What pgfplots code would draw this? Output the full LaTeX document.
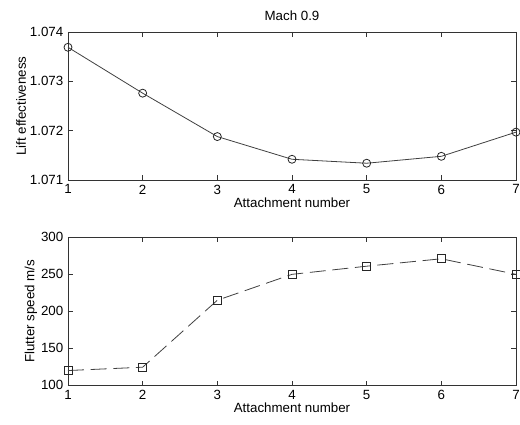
\documentclass[border=0pt]{standalone}
\usepackage{fontspec}
\setmainfont{Liberation Sans}
\usepackage{pgfplots}
\pgfplotsset{compat=1.18}
\begin{document}
\begin{tikzpicture}
\path[use as bounding box] (-51pt,-29pt) rectangle (339pt,289pt);
\pgfplotsset{
  every axis/.append style={
    scale only axis, width=336pt, height=111pt,
    xmin=1, xmax=7, xtick={1,...,7},
    font=\fontsize{10}{12}\selectfont,
    /pgf/number format/assume math mode=true,
    tick align=inside, major tick length=3.5pt,
    axis line style={black!80, line width=0.6pt},
    tick style={black!80, line width=0.6pt},
    xlabel={Attachment number},
    xlabel style={yshift=4pt},
    ylabel style={yshift=-4pt},
  }
}
\begin{axis}[at={(0,154pt)}, anchor=south west,
  ymin=1.071, ymax=1.074, ytick={1.071,1.072,1.073,1.074},
  yticklabel style={/pgf/number format/fixed, /pgf/number format/precision=3, /pgf/number format/fixed zerofill},
  scaled y ticks=false,
  ylabel={Lift effectiveness},
  title={Mach 0.9}, title style={yshift=-1pt},
]
\addplot[black!75, line width=0.6pt, mark=o, mark size=3pt, mark options={solid, black!85}] coordinates {
(1,1.07369) (2,1.07276) (3,1.07188) (4,1.07142) (5,1.07134) (6,1.07148) (7,1.07197)};
\end{axis}
\begin{axis}[at={(0,0)}, anchor=south west,
  ymin=100, ymax=300, ytick={100,150,...,300},
  ylabel={Flutter speed m/s},
]
\addplot[black!75, line width=0.6pt, dash pattern=on 12pt off 5pt, mark=square, mark size=3pt, mark options={solid, black!85}] coordinates {
(1,120) (2,124.5) (3,215) (4,250) (5,261) (6,271) (7,250)};
\end{axis}
\end{tikzpicture}
\end{document}
